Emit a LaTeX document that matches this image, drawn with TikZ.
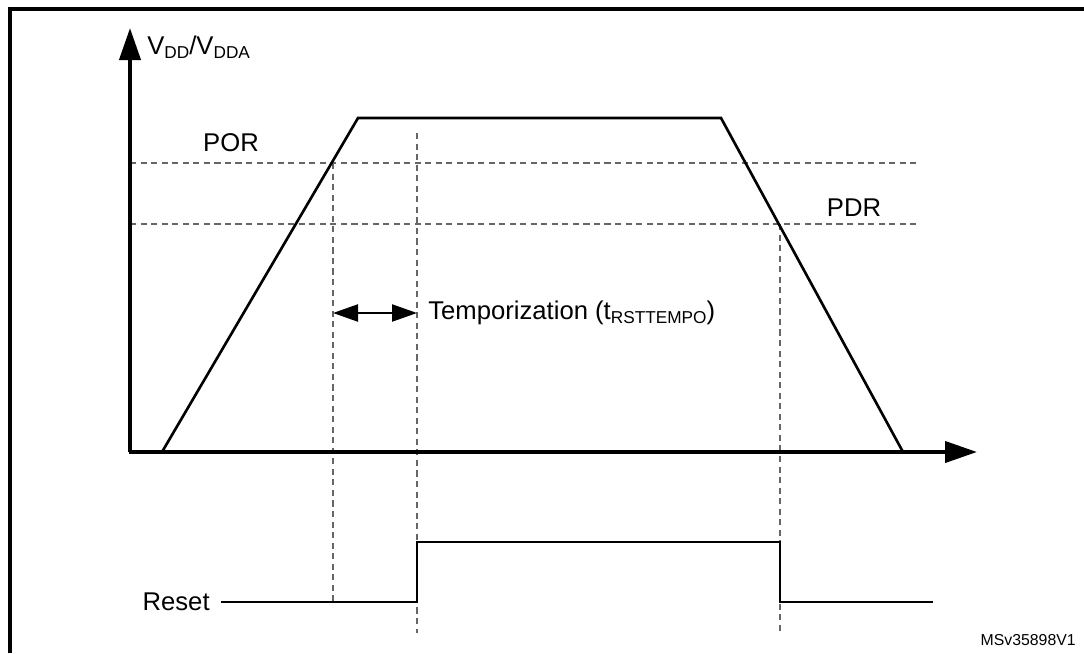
\documentclass[tikz,border=0pt]{standalone}
\usepackage{fontspec}
\setmainfont{Liberation Sans}
\usetikzlibrary{arrows.meta}
\newcommand{\lowsub}[1]{\raisebox{-0.3ex}{\fontsize{9.8}{10}\selectfont #1}}
\begin{document}
\begin{tikzpicture}[%
	x=0.2mm, y=-0.2mm,
	every node/.style = {inner sep=0pt, font=\fontsize{14.6}{16}\selectfont},
	frameline/.style={line width=2pt},
	axis/.style={line width=2.3pt, -{Triangle[length=6.4mm, width=4.2mm]}},
	wave/.style={line width=1.5pt, line join=miter},
	guide/.style={gray!80!black, line width=0.8pt, dash pattern=on 3.5pt off 2.5pt},
	span/.style={line width=1.3pt, {Triangle[length=5mm, width=3.4mm]}-{Triangle[length=5mm, width=3.4mm]}}
	]
  \useasboundingbox (0,0) rectangle (1084,653);
  \draw [frameline] (10,653) -- (10,9) -- (1084,9);
  % corner points of the supply curve and reset line
  \coordinate (o) at (130,452);
  \coordinate (ocorner) at (129,452);
  \coordinate (yend) at (130,28);
  \coordinate (xend) at (977,452);
  \coordinate (rise0) at (162,452);
  \coordinate (rise1) at (358,118);
  \coordinate (fall0) at (721,118);
  \coordinate (fall1) at (903,452);
  \coordinate (rst0) at (221,602);
  \coordinate (rstA) at (417,602);
  \coordinate (rstB) at (417,542);
  \coordinate (rstC) at (780,542);
  \coordinate (rstD) at (780,602);
  \coordinate (rst1) at (933,602);
  % thresholds
  \draw [guide] (130,163) coordinate (por0) -- (918,163) coordinate (por1);
  \draw [guide] (130,224) coordinate (pdr0) -- (918,224) coordinate (pdr1);
  \draw [guide] (333,163) -- (333,602);
  \draw [guide] (417,133) -- (417,633);
  \draw [guide] (780,224) -- (780,633);
  \draw [wave] (rise0) -- (rise1) -- (fall0) -- (fall1);
  \draw [axis] (o) -- (yend);
  \draw [axis] (ocorner) -- (xend);
  \draw [wave, line width=1.3pt] (rst0) -- (rstA) -- (rstB) -- (rstC) -- (rstD) -- (rst1);
  \draw [span] (333,313) coordinate (t0) -- (417,313) coordinate (t1);
  \node [anchor=west] (vdd) at (147,47) {V\lowsub{DD}/V\lowsub{DDA}};
  \node (por) at (231,143) {POR};
  \node (pdr) at (854,208) {PDR};
  \node [anchor=west] (tempo) at (428,313) {Temporization (t\lowsub{RSTTEMPO})};
  \node [anchor=east] (reset) at (210,602) {Reset};
  \node [anchor=east, font=\fontsize{9}{11}\selectfont] (ref) at (1076,640) {MSv35898V1};
\end{tikzpicture}
\end{document}
